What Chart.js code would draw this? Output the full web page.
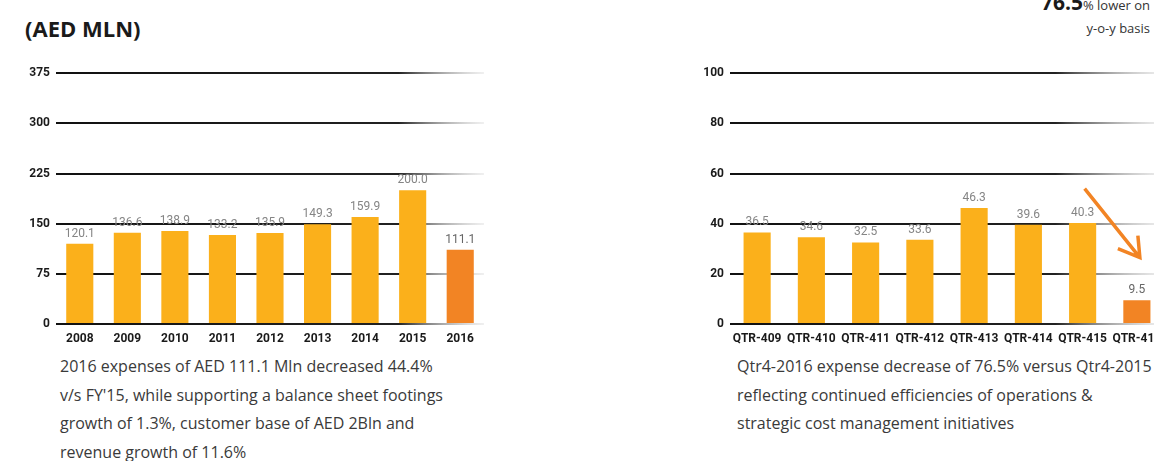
<!DOCTYPE html>
<html>
<head>
<meta charset="utf-8">
<script src="https://cdn.jsdelivr.net/npm/chart.js@4.4.0/dist/chart.umd.min.js"></script>
<style>
    html, body { margin: 0; padding: 0; background: #fff; width: 1154px; height: 461px; overflow: hidden; }
    body { position: relative; font-family: "Open Sans", sans-serif; }
    .title { position: absolute; left: 25px; top: 13px; font-size: 22px; font-weight: bold; color: #1a1a1a; }
    .note { position: absolute; right: 4px; top: -9px; text-align: right; color: #333; font-size: 13px; line-height: 23px; }
    .note b { font-size: 21px; color: #1a1a1a; }
    .box { position: absolute; }
    .caption { position: absolute; color: #3a3a3a; font-size: 16px; line-height: 28.5px; white-space: nowrap; }
</style>
</head>
<body>
<div class="title">(AED MLN)</div>
<div class="note"><b>76.5</b>% lower on<br>y-o-y basis</div>

<div class="box" style="left:0; top:60px; width:484px; height:288px;"><canvas id="yearChart"></canvas></div>
<div class="box" style="left:674px; top:60px; width:490px; height:288px;"><canvas id="qtrChart"></canvas></div>

<div class="caption" style="left:60px; top:352px;">2016 expenses of AED 111.1 Mln decreased 44.4%<br>v/s FY'15, while supporting a balance sheet footings<br>growth of 1.3%, customer base of AED 2Bln and<br>revenue growth of 11.6%</div>
<div class="caption" style="left:737px; top:352px;">Qtr4-2016 expense decrease of 76.5% versus Qtr4-2015<br>reflecting continued efficiencies of operations &amp;<br>strategic cost management initiatives</div>

<script>
// Data
const years = ['2008', '2009', '2010', '2011', '2012', '2013', '2014', '2015', '2016'];
const yearValues = [120.1, 136.6, 138.9, 133.2, 135.9, 149.3, 159.9, 200.0, 111.1];
const yearTicks = [0, 75, 150, 225, 300, 375];

const quarters = ['QTR-409', 'QTR-410', 'QTR-411', 'QTR-412', 'QTR-413', 'QTR-414', 'QTR-415', 'QTR-416'];
const quarterValues = [36.5, 34.6, 32.5, 33.6, 46.3, 39.6, 40.3, 9.5];
const quarterTicks = [0, 20, 40, 60, 80, 100];

const colors = {
    bar: '#fbb01b',
    last: '#f28424',
    label: '#858585',
    axis: '#1a1a1a'
};

Chart.defaults.font.family = "Roboto, sans-serif";

// grid lines fade out towards the right edge
function gridColor(fadeStart) {
    return function(ctx) {
        const area = ctx.chart.chartArea;
        if (!area) return '#111';
        const g = ctx.chart.ctx.createLinearGradient(area.left, 0, area.right, 0);
        g.addColorStop(0, '#111');
        g.addColorStop(fadeStart, '#222');
        g.addColorStop(1, 'rgba(180,180,180,0.2)');
        return g;
    };
}

// value labels above bars
const valueLabels = {
    id: 'valueLabels',
    afterDatasetsDraw(chart) {
        const ctx = chart.ctx;
        const meta = chart.getDatasetMeta(0);
        const data = chart.data.datasets[0].data;
        ctx.save();
        ctx.font = '12px Roboto, sans-serif';
        ctx.textAlign = 'center';
        ctx.textBaseline = 'bottom';
        meta.data.forEach((bar, i) => {
            ctx.fillStyle = i === data.length - 1 ? '#666' : colors.label;
            ctx.fillText(data[i].toFixed(1), bar.x, bar.y - 4);
        });
        ctx.restore();
    }
};

// orange arrow pointing at the last quarter
const dropArrow = {
    id: 'dropArrow',
    afterDatasetsDraw(chart) {
        const x = chart.scales.x, y = chart.scales.y;
        const n = quarters.length;
        const x0 = x.getPixelForValue(n - 2) + 2, y0 = y.getPixelForValue(54);
        const x1 = x.getPixelForValue(n - 1) + 3, y1 = y.getPixelForValue(26.5);
        const ctx = chart.ctx;
        ctx.save();
        ctx.strokeStyle = colors.last;
        ctx.lineWidth = 3.5;
        ctx.beginPath();
        ctx.moveTo(x0, y0);
        ctx.lineTo(x1, y1);
        ctx.moveTo(x1 - 22, y1 - 9);
        ctx.lineTo(x1, y1);
        ctx.lineTo(x1 - 2, y1 - 22);
        ctx.stroke();
        ctx.restore();
    }
};

function barOptions(ticks, yWidth, fadeStart) {
    return {
        responsive: true,
        maintainAspectRatio: false,
        animation: false,
        layout: { padding: { top: 9, right: 0, left: 0, bottom: 0 } },
        plugins: { legend: { display: false }, tooltip: { enabled: false } },
        scales: {
            x: {
                grid: { display: false },
                border: { display: false },
                ticks: {
                    color: colors.axis,
                    font: { size: 12, weight: 'bold' },
                    padding: 0,
                    maxRotation: 0,
                    autoSkip: false
                },
                afterFit: s => { s.height = 24; }
            },
            y: {
                min: ticks[0],
                max: ticks[ticks.length - 1],
                afterBuildTicks: s => { s.ticks = ticks.map(v => ({ value: v })); },
                grid: { color: gridColor(fadeStart), lineWidth: 2, drawTicks: false },
                border: { display: false },
                ticks: {
                    color: colors.axis,
                    font: { size: 12, weight: 'bold' },
                    padding: 6
                },
                afterFit: s => { s.width = yWidth; }
            }
        }
    };
}

// 1. Yearly expenses
new Chart(document.getElementById('yearChart'), {
    type: 'bar',
    data: {
        labels: years,
        datasets: [{
            data: yearValues,
            backgroundColor: yearValues.map((v, i) => i === yearValues.length - 1 ? colors.last : colors.bar),
            barPercentage: 0.57,
            categoryPercentage: 1
        }]
    },
    options: barOptions(yearTicks, 56, 0.8),
    plugins: [valueLabels]
});

// 2. Q4 expenses
new Chart(document.getElementById('qtrChart'), {
    type: 'bar',
    data: {
        labels: quarters,
        datasets: [{
            data: quarterValues,
            backgroundColor: quarterValues.map((v, i) => i === quarterValues.length - 1 ? colors.last : colors.bar),
            barPercentage: 0.5,
            categoryPercentage: 1
        }]
    },
    options: barOptions(quarterTicks, 56, 0.75),
    plugins: [valueLabels, dropArrow]
});
</script>
</body>
</html>
